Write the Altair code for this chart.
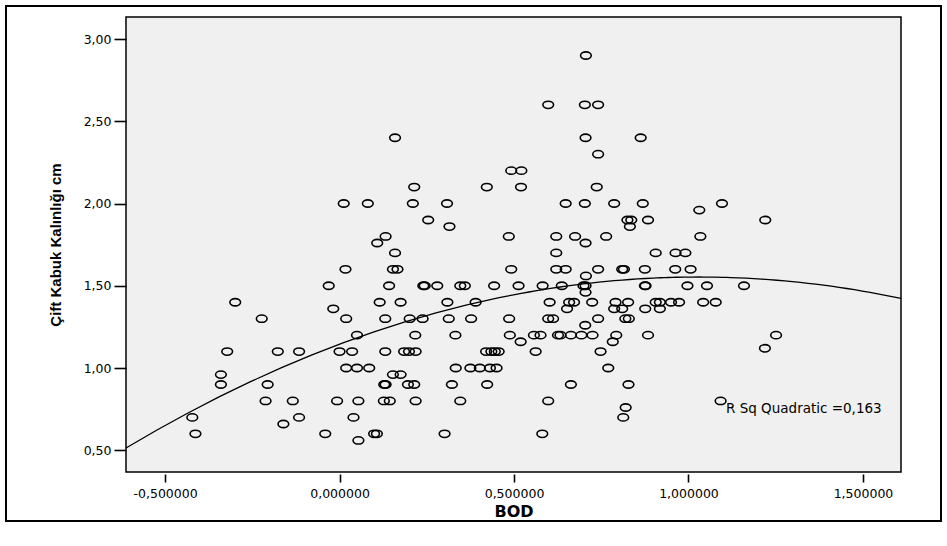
import altair as alt
import pandas as pd

# ---- data (BOD vs Çift Kabuk Kalınlığı) ----
bod = [
    0.159, 0.214, 0.422, 0.012, 0.081, 0.210, 0.308, 0.254, 0.315, 0.132,
    0.108, 0.706, 0.598, 0.703, 0.741, 0.705, 0.863, 0.741, 0.492, 0.521,
    0.520, 0.737, 0.648, 0.703, 0.787, 0.869, 1.031, 0.825, 0.836, 0.832,
    0.884, 0.485, 0.621, 0.675, 0.764, 0.705, 1.034, 1.096, 1.220,
    -0.299, -0.223, -0.322, -0.177, -0.116, -0.340, -0.340, -0.206, -0.212, -0.134,
    -0.422, -0.116, -0.161, -0.413,
    0.159, 0.017, 0.153, 0.166, -0.031, 0.142, 0.240, 0.244, 0.280, 0.346,
    0.359, 0.443, -0.018, 0.115, 0.175, 0.309, 0.390, 0.019, 0.131, 0.201,
    0.238, 0.313, 0.377, 0.050, 0.217, 0.332, 0.000, 0.036, 0.131, 0.185,
    0.199, 0.218, 0.420, 0.435, 0.445, 0.456, 0.019, 0.050, 0.085, 0.333,
    0.375, 0.402, 0.431, 0.450, 0.153, 0.175, 0.128, 0.132, 0.196, 0.214,
    0.322, 0.423, -0.007, 0.054, 0.127, 0.144, 0.218, 0.346, 0.040, -0.041,
    0.099, 0.107, 0.301, 0.054,
    0.621, 0.906, 0.963, 0.991, 0.492, 0.621, 0.648, 0.741, 0.810, 0.815,
    0.875, 0.962, 1.006, 0.706, 0.513, 0.582, 0.637, 0.699, 0.705, 0.705,
    0.875, 0.877, 0.997, 1.053, 0.602, 0.658, 0.672, 0.724, 0.791, 0.827,
    0.906, 0.918, 0.950, 0.973, 1.042, 1.078, 0.652, 0.787, 0.810, 0.876,
    0.918, 0.486, 0.598, 0.612, 0.741, 0.819, 0.829, 0.704, 0.488, 0.519,
    0.557, 0.576, 0.626, 0.633, 0.663, 0.693, 0.725, 0.793, 0.783, 0.884,
    0.562, 0.748, 0.770, 0.663, 0.828, 0.598, 0.820, 0.813, 0.581,
    1.159, 1.251, 1.219, 1.092,
]
kabuk = [
    2.40, 2.10, 2.10, 2.00, 2.00, 2.00, 2.00, 1.90, 1.86, 1.80,
    1.76, 2.90, 2.60, 2.60, 2.60, 2.40, 2.40, 2.30, 2.20, 2.20,
    2.10, 2.10, 2.00, 2.00, 2.00, 2.00, 1.96, 1.90, 1.90, 1.86,
    1.90, 1.80, 1.80, 1.80, 1.80, 1.76, 1.80, 2.00, 1.90,
    1.40, 1.30, 1.10, 1.10, 1.10, 0.96, 0.90, 0.90, 0.80, 0.80,
    0.70, 0.70, 0.66, 0.60,
    1.70, 1.60, 1.60, 1.60, 1.50, 1.50, 1.50, 1.50, 1.50, 1.50,
    1.50, 1.50, 1.36, 1.40, 1.40, 1.40, 1.40, 1.30, 1.30, 1.30,
    1.30, 1.30, 1.30, 1.20, 1.20, 1.20, 1.10, 1.10, 1.10, 1.10,
    1.10, 1.10, 1.10, 1.10, 1.10, 1.10, 1.00, 1.00, 1.00, 1.00,
    1.00, 1.00, 1.00, 1.00, 0.96, 0.96, 0.90, 0.90, 0.90, 0.90,
    0.90, 0.90, 0.80, 0.80, 0.80, 0.80, 0.80, 0.80, 0.70, 0.60,
    0.60, 0.60, 0.60, 0.56,
    1.70, 1.70, 1.70, 1.70, 1.60, 1.60, 1.60, 1.60, 1.60, 1.60,
    1.60, 1.60, 1.60, 1.56, 1.50, 1.50, 1.50, 1.50, 1.50, 1.46,
    1.50, 1.50, 1.50, 1.50, 1.40, 1.40, 1.40, 1.40, 1.40, 1.40,
    1.40, 1.40, 1.40, 1.40, 1.40, 1.40, 1.36, 1.36, 1.36, 1.36,
    1.36, 1.30, 1.30, 1.30, 1.30, 1.30, 1.30, 1.26, 1.20, 1.16,
    1.20, 1.20, 1.20, 1.20, 1.20, 1.20, 1.20, 1.20, 1.16, 1.20,
    1.10, 1.10, 1.00, 0.90, 0.90, 0.80, 0.76, 0.70, 0.60,
    1.50, 1.20, 1.12, 0.80,
]

x_ticks = [-0.5, 0.0, 0.5, 1.0, 1.5]
y_ticks = [0.5, 1.0, 1.5, 2.0, 2.5, 3.0]
x_domain = [-0.612, 1.609]
y_domain = [0.368, 3.134]
x_title = "BOD"
y_title = "Çift Kabuk Kalınlığı cm"
r2_label = ["R Sq Quadratic =0,163"]

df = pd.DataFrame({"BOD": bod, "Kabuk": kabuk})

FONT = "Liberation Sans"
WIDE = "DejaVu Sans"
MINUS = "\u2212"
ellipse = "M-1,0A1,0.68,0,1,0,1,0A1,0.68,0,1,0,-1,0Z"

x_enc = alt.X(
    "BOD:Q",
    scale=alt.Scale(domain=x_domain, nice=False, zero=False),
    axis=alt.Axis(
        values=x_ticks,
        labelExpr=f"replace(replace(format(datum.value, '.6f'), '.', ','), '{MINUS}', '-')",
        title=x_title,
        tickSize=8, tickWidth=1.6, tickColor="black", offset=2,
        labelPadding=5, labelFontSize=12.5, labelFont=WIDE, labelColor="black",
        domain=False, grid=False,
        titleFont=WIDE, titleFontSize=16, titleFontWeight="bold", titleColor="black",
        titleX=387.5, titleY=37, titleBaseline="middle", titleAlign="center",
    ),
)
y_enc = alt.Y(
    "Kabuk:Q",
    scale=alt.Scale(domain=y_domain, nice=False, zero=False),
    axis=alt.Axis(
        values=y_ticks,
        labelExpr="replace(format(datum.value, '.2f'), '.', ',')",
        title=y_title,
        tickSize=12, tickWidth=1.6, tickColor="black",
        labelPadding=3, labelFontSize=12.5, labelFont=WIDE, labelColor="black",
        domain=False, grid=False,
        titleFont=FONT, titleFontSize=15, titleFontWeight="bold", titleColor="black",
        titleX=-71, titleY=227.5, titleAngle=-90, titleBaseline="middle", titleAlign="center",
    ),
)

base = alt.Chart(df)

points = base.mark_point(
    shape=ellipse, size=114, filled=False, stroke="black", strokeWidth=1.6, opacity=1
).encode(x=x_enc, y=y_enc)

fit = base.transform_regression(
    "BOD", "Kabuk", method="poly", order=2, extent=x_domain
).mark_line(color="black", strokeWidth=1.3).encode(x=x_enc, y=y_enc)

r2 = alt.Chart(pd.DataFrame({"t": r2_label})).mark_text(
    align="left", baseline="middle", font=WIDE, fontSize=13.5, color="black"
).encode(text="t:N", x=alt.value(600), y=alt.value(392))

border = alt.Chart(pd.DataFrame({"t": r2_label})).mark_rect(
    fill="transparent", stroke="black", strokeWidth=2
).encode(x=alt.value(-120), x2=alt.value(815), y=alt.value(-11), y2=alt.value(504))

chart = alt.layer(fit, points, r2, border).properties(
    width=775, height=455,
    autosize=alt.AutoSizeParams(type="none"),
    padding={"left": 126, "top": 17, "right": 46, "bottom": 74},
    background="white",
).configure_view(fill="#F0F0F0", stroke="black", strokeWidth=1.5)

chart.save("out.html", embed_options={"renderer": "svg", "actions": False})
